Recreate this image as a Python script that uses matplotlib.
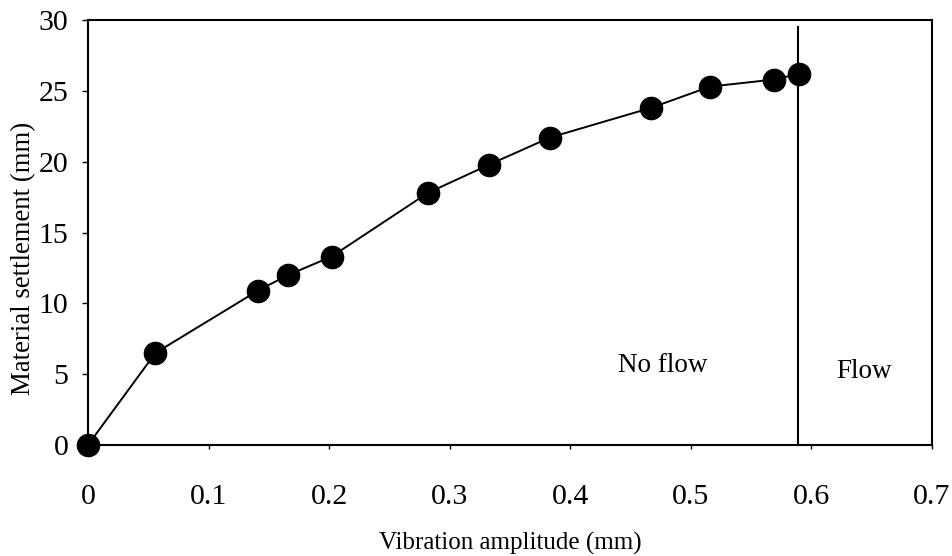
import matplotlib
matplotlib.use('Agg')
import matplotlib.pyplot as plt

# vibration amplitude (mm) vs material settlement (mm)
amplitude = [0.0, 0.056, 0.141, 0.166, 0.202, 0.282, 0.333, 0.383, 0.467, 0.516, 0.569, 0.590]
settlement = [0.0, 6.5, 10.9, 12.0, 13.3, 17.8, 19.8, 21.7, 23.8, 25.3, 25.8, 26.2]
flow_limit = 0.589

plt.rcParams['font.family'] = ['Liberation Serif', 'DejaVu Serif']

fig = plt.figure(figsize=(9.53, 5.56), dpi=100)
ax = fig.add_axes([0.0923, 0.1996, 0.8856, 0.7644])

ax.plot(amplitude, settlement, color='black', linewidth=1.4,
        marker='o', markersize=16, markerfacecolor='black', markeredgecolor='black',
        clip_on=False, zorder=3)
ax.plot([flow_limit, flow_limit], [0.1, 29.5], color='black', linewidth=1.5)

ax.text(0.477, 5.6, 'No flow', fontsize=19.5, ha='center', va='center')
ax.text(0.644, 5.2, 'Flow', fontsize=19.5, ha='center', va='center')

ax.set_xlim(0, 0.7)
ax.set_ylim(0, 30)
ax.set_xticks([0, 0.1, 0.2, 0.3, 0.4, 0.5, 0.6, 0.7])
ax.set_xticklabels(['0', '0.1', '0.2', '0.3', '0.4', '0.5', '0.6', '0.7'])
ax.set_yticks([0, 5, 10, 15, 20, 25, 30])
ax.tick_params(axis='x', direction='out', length=3, width=1, pad=25, labelsize=21.5)
ax.tick_params(axis='y', direction='out', length=4, width=1, pad=10, labelsize=21.5)
for s in ax.spines.values():
    s.set_linewidth(1.5)

ax.set_xlabel('Vibration amplitude (mm)', fontsize=18, labelpad=16)
ax.set_ylabel('Material settlement (mm)', fontsize=19.3)
ax.yaxis.set_label_coords(-0.062, 0.44)

fig.savefig('out.png', dpi=100)
